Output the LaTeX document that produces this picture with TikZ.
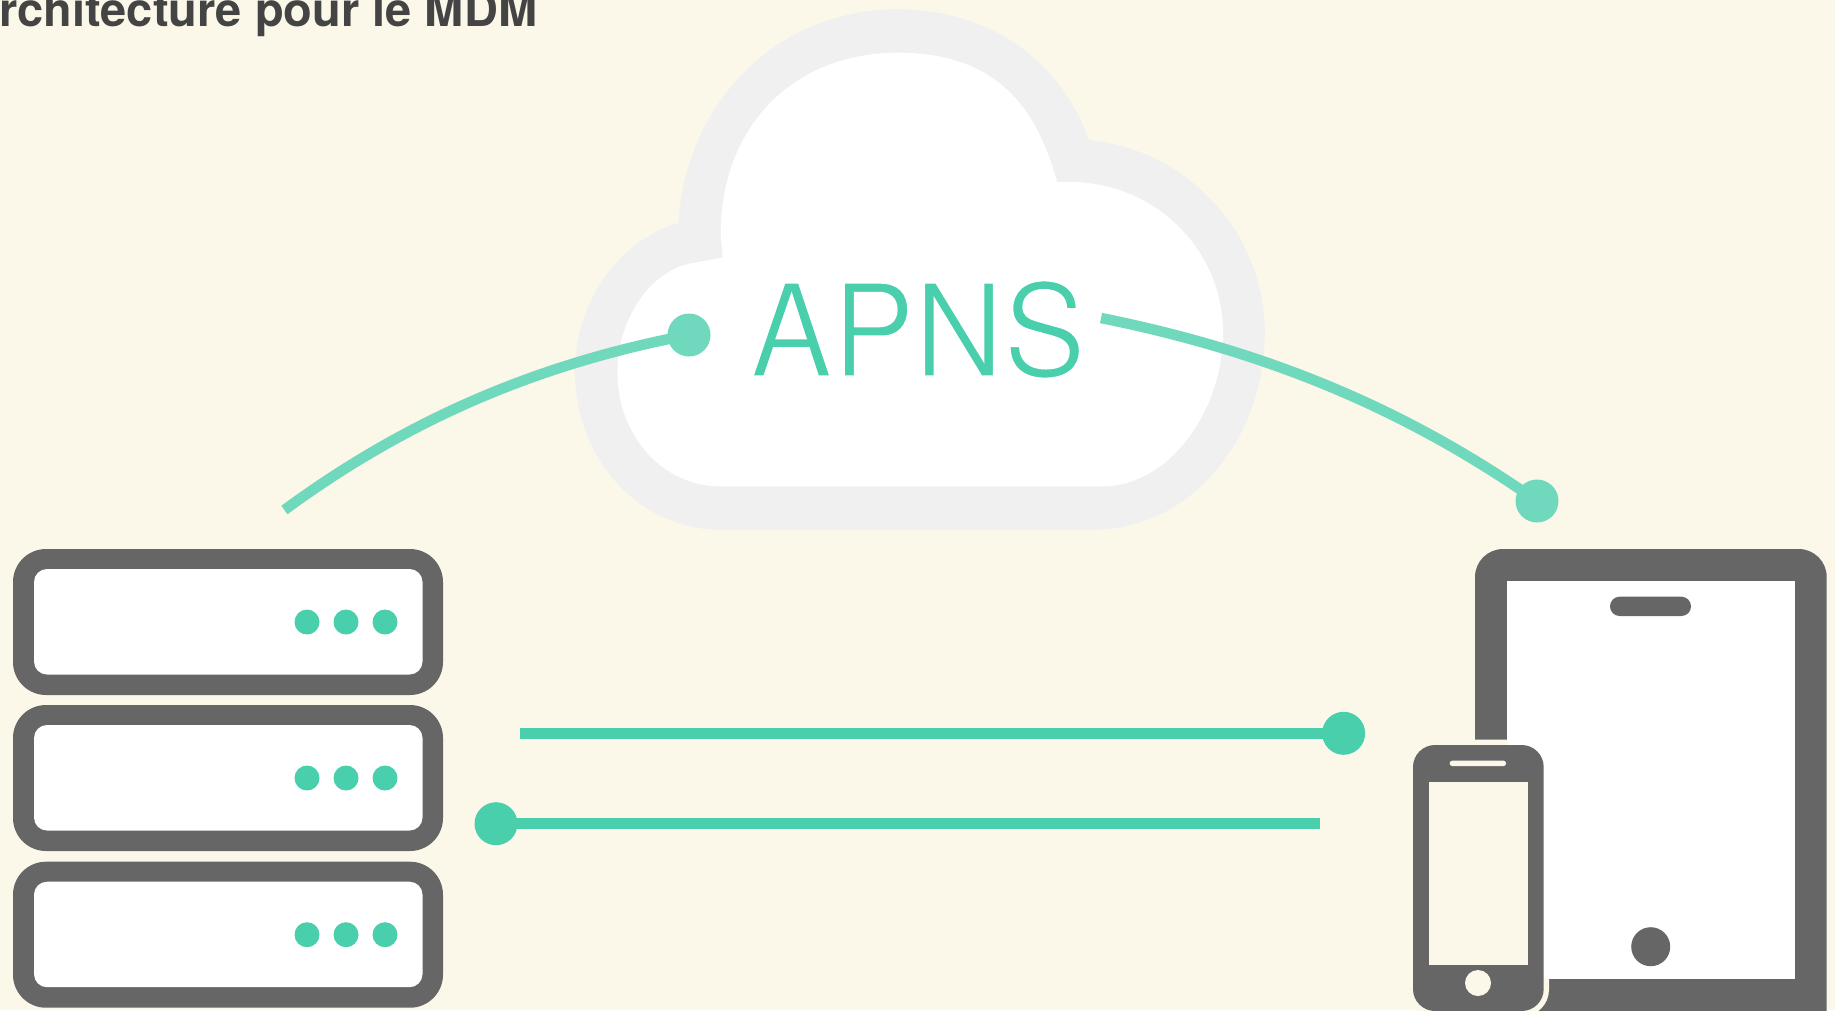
\documentclass[tikz,border=0pt]{standalone}
\usepackage{fontspec}
\setmainfont{TeX Gyre Heros}
\definecolor{bgc}{HTML}{FCF8E9}
\definecolor{gry}{HTML}{666666}
\definecolor{grn}{HTML}{4ACFAC}
\definecolor{lgrn}{HTML}{70D9BD}
\definecolor{cld}{HTML}{F0F0F0}
\definecolor{ttl}{HTML}{444444}
\tikzset{
  srvout/.style={fill=gry,draw=none,rounded corners=33},
  srvin/.style={fill=white,draw=none,rounded corners=13},
  srvdot/.style={fill=grn,draw=none},
  link/.style={draw=grn,line width=10.5},
  arc/.style={draw=lgrn,line width=10.5},
  enddot/.style={circle,fill=grn,draw=none,minimum size=43,inner sep=0},
  ldot/.style={circle,fill=lgrn,draw=none,minimum size=43,inner sep=0}
}
\newcommand{\server}[1]{%
  \fill[srvout] (13,#1) rectangle (443,#1+146);
  \fill[srvin] (34,#1+20) rectangle (422.5,#1+125.5);
  \fill[srvdot] (307,#1+73) circle (12.5);
  \fill[srvdot] (346,#1+73) circle (12.5);
  \fill[srvdot] (385,#1+73) circle (12.5);
}
\begin{document}
\begin{tikzpicture}[x=1pt,y=-1pt]
\useasboundingbox (0,0) rectangle (1835,1010);
\fill[bgc] (0,0) rectangle (1835,1010);
\clip (0,0) rectangle (1835,1010);
\node[anchor=base west,inner sep=0,text=ttl,font=\fontsize{47}{47}\selectfont\bfseries] (title) at (-1,26) {rchitecture pour le MDM};
% cloud
\fill[cld] (720.7,529.8)
  .. controls (640,529.8) and (575,460) .. (575,372)
  .. controls (575,300) and (620,240) .. (678.5,222.9)
  .. controls (685,105) and (775,9.3) .. (897.5,9.3)
  .. controls (990,9.3) and (1060,60) .. (1089,140)
  .. controls (1190,150) and (1264.8,235) .. (1264.8,332.4)
  .. controls (1264.8,440) and (1190,529.8) .. (1092.6,529.8)
  -- cycle;
\fill[white] (720.7,486.4)
  .. controls (662,486.4) and (617.4,435) .. (617.4,372)
  .. controls (617.4,320) and (650,270) .. (693,263)
  -- (722.5,257.6) -- (720.7,234)
  .. controls (720.7,125) and (795,52.7) .. (897.5,52.7)
  .. controls (990,52.7) and (1035,100) .. (1057,182)
  -- (1070,182)
  .. controls (1155,182) and (1223,250) .. (1223,332.4)
  .. controls (1223,410) and (1170,486.4) .. (1101.8,486.4)
  -- cycle;
\node[anchor=base west,inner sep=0,text=grn,font=\fontsize{129}{129}\selectfont,transform shape,xscale=0.955] (apns) at (750,376.5) {\special{pdf:code q 2 Tr 2.5 w 1 1 1 RG}APNS\special{pdf:code Q}};
% servers
\server{549}
\server{705}
\server{861.7}
% tablet
\fill[gry,rounded corners=28] (1475,549) rectangle (1826.7,1040);
\fill[bgc,rounded corners=27] (1407.5,739.5) rectangle (1549,1016.5);
\fill[white] (1506.7,581) rectangle (1794.7,979);
\fill[gry,rounded corners=9.6] (1610,596.7) rectangle (1691,616);
\fill[gry] (1650.7,946.7) circle (19.5);
% phone
\fill[gry,rounded corners=22] (1413,745) rectangle (1543.7,1011);
\fill[bgc] (1429,782) rectangle (1527.7,965.3);
\fill[bgc,rounded corners=2.5] (1449.7,760.7) rectangle (1506,766);
\fill[bgc] (1478,983) circle (13);
% connectors
\node[enddot] (d1) at (1343.6,733.3) {};
\node[enddot] (d2) at (496,823.7) {};
\coordinate (s1) at (520,733.3);
\coordinate (s2) at (1320,823.7);
\draw[link] (s1) -- (d1.center);
\draw[link] (s2) -- (d2.center);
\coordinate (c1) at (284.4,510);
\coordinate (c2) at (1101,318);
\node[ldot] (d3) at (689,335) {};
\node[ldot] (d4) at (1537,501) {};
\draw[arc] (c1) .. controls (400,425) and (530,365) .. (d3.center);
\draw[arc] (c2) .. controls (1260,350) and (1400,405) .. (d4.center);
\end{tikzpicture}
\end{document}
